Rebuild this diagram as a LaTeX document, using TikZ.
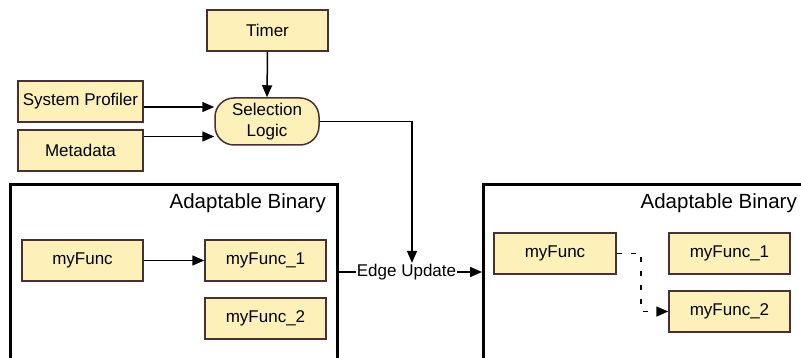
\documentclass[tikz,border=0pt]{standalone}
\usepackage{fontspec}
\setmainfont{Liberation Sans}
\usepackage{tikz}
\usetikzlibrary{arrows.meta}
\usetikzlibrary{calc}

\definecolor{boxfill}{HTML}{FDF1B9}
\definecolor{boxline}{HTML}{4A3030}

\tikzset{
	fbox/.style={draw=boxline, fill=boxfill, line width=1.5pt, minimum width=121pt, minimum height=41pt, inner sep=0pt, font=\fontsize{17}{20.5}\selectfont},
	selbox/.style={fbox, minimum width=104pt, minimum height=47pt, rounded corners=19pt, align=center},
	binframe/.style={draw, line width=3pt, inner sep=0pt},
	bintitle/.style={anchor=north east, inner sep=0pt, font=\fontsize{20.5}{24}\selectfont},
	conn/.style={line width=1.5pt, -{Triangle[length=12pt,width=10pt]}},
}

\begin{document}
\begin{tikzpicture}[x=1pt,y=-1pt]
\useasboundingbox (0,0) rectangle (801,358);
\clip (0,0) rectangle (801,358);

% inputs
\node[fbox] (timer) at (267.5,30.5) {Timer};
\node[fbox, minimum width=125pt] (prof) at (80.5,101.5) {System Profiler};
\node[fbox, minimum width=125pt] (meta) at (80.5,150.5) {Metadata};
\node[selbox] (sel) at (267,121.5) {Selection\\Logic};

% binaries
\node[binframe, minimum width=327pt, minimum height=231pt] (leftbin) at (174,300) {};
\node[binframe, minimum width=400pt, minimum height=231pt] (rightbin) at (683.5,300) {};
\node[bintitle] (lefttitle) at (326,193) {Adaptable Binary};
\node[bintitle] (righttitle) at (797,193) {Adaptable Binary};

\node[fbox] (lfunc) at (82.5,260.5) {myFunc};
\node[fbox] (lfunc1) at (265.5,260.5) {myFunc\_1};
\node[fbox] (lfunc2) at (265.5,318.5) {myFunc\_2};
\node[fbox, minimum width=122pt] (rfunc) at (555,253.5) {myFunc};
\node[fbox] (rfunc1) at (729.5,253.5) {myFunc\_1};
\node[fbox] (rfunc2) at (729.5,311.5) {myFunc\_2};

\node[inner sep=1pt, font=\fontsize{17}{20}\selectfont] (upd) at (406.5,272) {Edge Update};

\coordinate (profout) at ([yshift=-5.5pt]prof.east);
\coordinate (metaout) at ([yshift=14pt]meta.east);

% connectors
\draw[conn] (timer.south) -- (sel.north);
\draw[conn] (profout) -- (sel.west |- profout);
\draw[conn] (metaout) -- (sel.west |- metaout);
\draw[conn] (sel.east) -| ([xshift=5.5pt]upd.north);
\draw[line width=1.5pt] (leftbin.east |- upd.west) -- (upd.west);
\draw[conn] (upd.east) -- (rightbin.west |- upd.east);
\draw[conn] (lfunc.east) -- (lfunc1.west);
\draw[conn, dash pattern=on 5pt off 9pt] (rfunc.east) -- ++(24,0) |- (rfunc2.west);
\end{tikzpicture}
\end{document}
